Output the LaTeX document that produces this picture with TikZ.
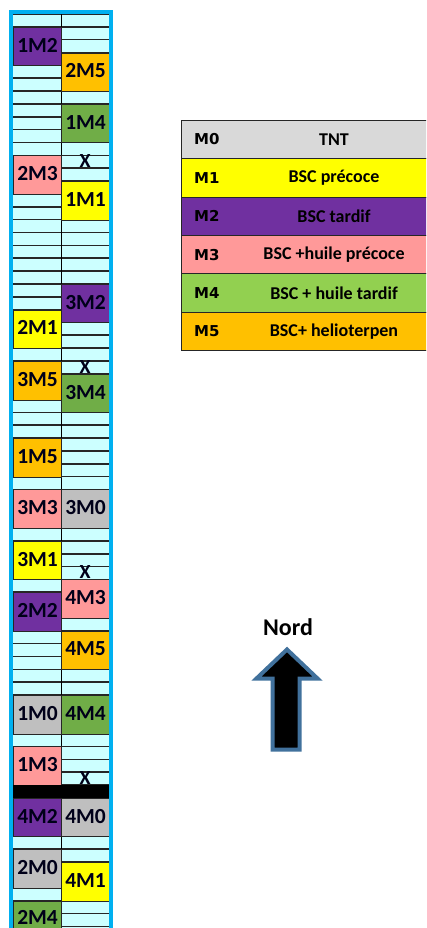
\documentclass[tikz,border=0pt]{standalone}
\usepackage{fontspec}
\setmainfont{Carlito}
\newfontfamily\codefont{DejaVu Sans}
\usetikzlibrary{positioning}
\definecolor{cellcyan}{HTML}{CCFFFF}
\definecolor{mpurple}{HTML}{7030A0}
\definecolor{morange}{HTML}{FFC000}
\definecolor{mgreen}{HTML}{70AD47}
\definecolor{mpink}{HTML}{FF9999}
\definecolor{myellow}{HTML}{FFFF00}
\definecolor{mgray}{HTML}{BFBFBF}
\definecolor{tntgray}{HTML}{D9D9D9}
\definecolor{lightgreen}{HTML}{92D050}
\definecolor{gridblue}{HTML}{00B0F0}
\definecolor{arrowblue}{HTML}{41719C}
\tikzset{
rowline/.style={line width=1.6pt, black!85}, % separators between the rows of the plan
plotbox/.style={draw=black!85, line width=0.8pt, anchor=north west, minimum width=48pt, minimum height=38.55pt, inner sep=0pt, text depth=3pt, text=black!90!blue, font=\fontsize{21.5}{21.5}\selectfont\bfseries}, % one plot, three rows high
xmark/.style={inner sep=0pt, text=black!90!blue, font=\fontsize{20}{20}\selectfont\bfseries}, % the X rows
legrow/.style={draw=black!85, line width=0.8pt, anchor=north west, minimum width=250pt, minimum height=38.45pt, inner sep=0pt, outer sep=0pt}, % one line of the legend
leglabel/.style={inner sep=0pt, font=\codefont\fontsize{15}{15}\selectfont\bfseries}, % M0 ... M5
legtext/.style={inner sep=0pt, font=\fontsize{18}{18}\selectfont\bfseries}, % treatment names
nordarrow/.style={draw=arrowblue, fill=black, line width=4pt}, % the north arrow
}

\begin{document}
\begin{tikzpicture}[x=1pt, y=-1pt]
\useasboundingbox (0,0) rectangle (426,928);
\clip (0,0) rectangle (426,928);

% plan of the plots, one unit = one column / one row
\begin{scope}[shift={(13.2,14)}, x=48pt, y=-12.85pt]
\fill[cellcyan] (0,0) rectangle (2,73);
\foreach \r in {0,...,72}
  \draw[rowline] (0,\r) -- (2,\r);
\draw[black, line width=0.8pt] (1,0) -- (1,73);
% left column
\node[plotbox, fill=mpurple] (p1M2) at (0,1) {1M2};
\node[plotbox, fill=mpink] (p2M3) at (0,11) {2M3};
\node[plotbox, fill=myellow] (p2M1) at (0,23) {2M1};
\node[plotbox, fill=morange] (p3M5) at (0,27) {3M5};
\node[plotbox, fill=morange] (p1M5) at (0,33) {1M5};
\node[plotbox, fill=mpink] (p3M3) at (0,37) {3M3};
\node[plotbox, fill=myellow] (p3M1) at (0,41) {3M1};
\node[plotbox, fill=mpurple] (p2M2) at (0,45) {2M2};
\node[plotbox, fill=mgray] (p1M0) at (0,53) {1M0};
\node[plotbox, fill=mpink] (p1M3) at (0,57) {1M3};
\node[plotbox, fill=mpurple] (p4M2) at (0,61) {4M2};
\node[plotbox, fill=mgray] (p2M0) at (0,65) {2M0};
\node[plotbox, fill=mgreen, text depth=6pt] (p2M4) at (0,69) {2M4};
% right column
\node[plotbox, fill=morange] (p2M5) at (1,3) {2M5};
\node[plotbox, fill=mgreen] (p1M4) at (1,7) {1M4};
\node[plotbox, fill=myellow] (p1M1) at (1,13) {1M1};
\node[plotbox, fill=mpurple] (p3M2) at (1,21) {3M2};
\node[plotbox, fill=mgreen] (p3M4) at (1,28) {3M4};
\node[plotbox, fill=mgray] (p3M0) at (1,37) {3M0};
\node[plotbox, fill=mpink] (p4M3) at (1,44) {4M3};
\node[plotbox, fill=morange] (p4M5) at (1,48) {4M5};
\node[plotbox, fill=mgreen] (p4M4) at (1,53) {4M4};
\node[plotbox, fill=mgray] (p4M0) at (1,61) {4M0};
\node[plotbox, fill=myellow] (p4M1) at (1,66) {4M1};
% X rows
\node[xmark] (x1) at (1.5,11.45) {X};
\node[xmark] (x2) at (1.5,27.45) {X};
\node[xmark] (x3) at (1.5,43.45) {X};
\node[xmark] (x4) at (1.5,59.45) {X};
\fill[black] (0,60) rectangle (2,61);
\end{scope}
\draw[gridblue, line width=4pt] (11.2,930) -- (11.2,12.5) -- (111.3,12.5) -- (111.3,930);

% legend
\node[legrow, fill=tntgray] (m0) at (181,120) {};
\node[legrow, fill=myellow, below=0pt of m0] (m1) {};
\node[legrow, fill=mpurple, below=0pt of m1] (m2) {};
\node[legrow, fill=mpink, below=0pt of m2] (m3) {};
\node[legrow, fill=lightgreen, below=0pt of m3] (m4) {};
\node[legrow, fill=morange, below=0pt of m4] (m5) {};
\node[leglabel, right=13pt of m0.west] (l0) {M0};
\node[leglabel, right=13pt of m1.west] (l1) {M1};
\node[leglabel, right=13pt of m2.west] (l2) {M2};
\node[leglabel, right=13pt of m3.west] (l3) {M3};
\node[leglabel, right=13pt of m4.west] (l4) {M4};
\node[leglabel, right=13pt of m5.west] (l5) {M5};
\node[legtext] (t0) at ([xshift=153pt]m0.west) {TNT};
\node[legtext] (t1) at ([xshift=153pt]m1.west) {BSC précoce};
\node[legtext] (t2) at ([xshift=153pt]m2.west) {BSC tardif};
\node[legtext] (t3) at ([xshift=153pt]m3.west) {BSC +huile précoce};
\node[legtext] (t4) at ([xshift=153pt]m4.west) {BSC + huile tardif};
\node[legtext] (t5) at ([xshift=153pt]m5.west) {BSC+ helioterpen};

% north
\node[anchor=base, inner sep=0pt, font=\fontsize{24}{24}\selectfont\bfseries] (nord) at (288,635) {Nord};
\draw[nordarrow] (287,649.5) -- (317.5,678.5) -- (299.5,678.5) -- (299.5,749.5)
  -- (272.5,749.5) -- (272.5,678.5) -- (256.5,678.5) -- cycle;
\end{tikzpicture}
\end{document}
